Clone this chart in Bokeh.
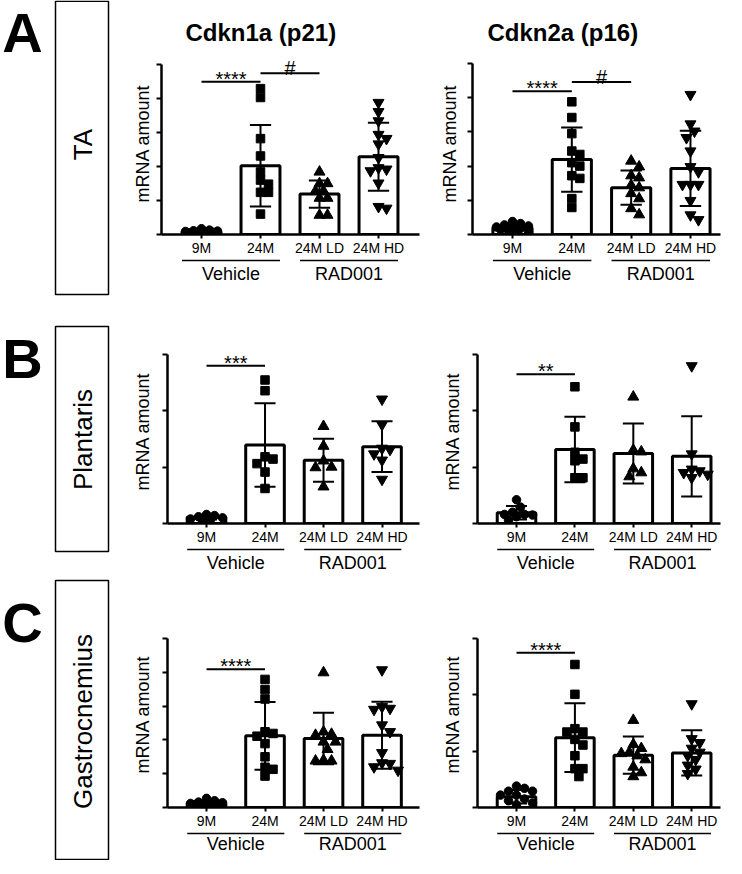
import math
from bokeh.plotting import figure
from bokeh.layouts import row, column
from bokeh.models import Range1d, FixedTicker
from bokeh.core.properties import value
from bokeh.embed import file_html
from bokeh.resources import INLINE

FONT = "Liberation Sans"

categories = ["9M", "24M", "24M LD", "24M HD"]
groups = ["Vehicle", "RAD001"]
group_members = [[0, 1], [2, 3]]
markers = ["circle", "square", "triangle", "inverted_triangle"]
marker_sizes = [8.5, 8.5, 11, 11]
genes = ["Cdkn1a (p21)", "Cdkn2a (p16)"]
muscles = ["TA", "Plantaris", "Gastrocnemius"]
letters = ["A", "B", "C"]

# ---- TA / Cdkn1a ----
ta_p21_mean = [0.08, 2.02, 1.19, 2.29]
ta_p21_sd = [0.04, 1.20, 0.40, 1.00]
ta_p21_9m = [0.17, 0.13, 0.11, 0.10, 0.09, 0.08, 0.07, 0.06, 0.05, 0.04]
ta_p21_24m = [4.29, 4.03, 2.82, 2.31, 1.84, 1.60, 1.48, 1.24, 1.24, 0.60]
ta_p21_ld = [1.84, 1.50, 1.50, 1.28, 1.28, 1.07, 1.07, 0.57, 0.57]
ta_p21_hd = [3.88, 3.61, 3.34, 2.94, 2.82, 2.66, 2.26, 1.96, 1.92, 1.87, 1.51, 0.82, 0.77]
ta_p21_ticks = [0, 1, 2, 3, 4, 5]
ta_p21_sig = [(0, 1, 4.49, "****"), (1, 2, 4.74, "#")]

# ---- TA / Cdkn2a ----
ta_p16_mean = [0.20, 2.19, 1.37, 1.93]
ta_p16_sd = [0.08, 0.94, 0.50, 1.10]
ta_p16_9m = [0.38, 0.32, 0.28, 0.25, 0.22, 0.20, 0.18, 0.15, 0.12, 0.08, 0.05]
ta_p16_24m = [3.88, 3.42, 2.95, 2.44, 2.34, 2.10, 2.00, 1.72, 1.64, 1.05, 0.79]
ta_p16_ld = [2.15, 1.98, 1.72, 1.66, 1.44, 1.37, 1.20, 1.05, 0.76, 0.58]
ta_p16_hd = [4.09, 3.23, 3.02, 2.83, 2.44, 1.98, 1.83, 1.46, 1.46, 1.46, 0.99, 0.57, 0.43]
ta_p16_ticks = [0, 1, 2, 3, 4, 5]
ta_p16_sig = [(0, 1, 4.19, "****"), (1, 2, 4.46, "#")]

# ---- Plantaris / Cdkn1a ----
pl_p21_mean = [0.11, 1.39, 1.12, 1.36]
pl_p21_sd = [0.04, 0.74, 0.38, 0.45]
pl_p21_9m = [0.16, 0.14, 0.12, 0.10, 0.08, 0.07, 0.05]
pl_p21_24m = [2.54, 2.35, 1.18, 1.14, 1.06, 0.91, 0.62]
pl_p21_ld = [1.72, 1.37, 1.11, 1.00, 0.99, 0.65]
pl_p21_hd = [2.20, 1.75, 1.33, 1.31, 1.23, 1.12, 0.78]
pl_p21_ticks = [0, 1, 2, 3]
pl_p21_sig = [(0, 1, 2.79, "***")]

# ---- Plantaris / Cdkn2a ----
pl_p16_mean = [0.19, 1.31, 1.24, 1.19]
pl_p16_sd = [0.12, 0.58, 0.53, 0.71]
pl_p16_9m = [0.42, 0.29, 0.20, 0.16, 0.16, 0.15, 0.12, 0.06]
pl_p16_24m = [2.42, 1.71, 1.26, 1.14, 1.11, 0.81, 0.81]
pl_p16_ld = [2.24, 1.30, 1.27, 0.97, 0.90, 0.83]
pl_p16_hd = [2.79, 1.23, 0.96, 0.93, 0.90, 0.87, 0.81]
pl_p16_ticks = [0, 1, 2, 3]
pl_p16_sig = [(0, 1, 2.64, "**")]

# ---- Gastrocnemius / Cdkn1a ----
ga_p21_mean = [0.12, 2.12, 2.04, 2.14]
ga_p21_sd = [0.05, 1.00, 0.76, 0.99]
ga_p21_9m = [0.27, 0.20, 0.16, 0.14, 0.12, 0.10, 0.10, 0.08, 0.06]
ga_p21_24m = [3.79, 3.49, 3.21, 2.24, 2.19, 2.11, 1.89, 1.50, 1.19, 1.13, 0.93]
ga_p21_ld = [3.99, 2.24, 2.17, 2.14, 1.94, 1.94, 1.72, 1.40, 1.38, 1.38]
ga_p21_hd = [4.07, 2.98, 2.93, 2.90, 2.44, 2.24, 1.62, 1.32, 1.30, 1.20, 1.10]
ga_p21_ticks = [0, 1, 2, 3, 4, 5]
ga_p21_sig = [(0, 1, 4.09, "****")]

# ---- Gastrocnemius / Cdkn2a ----
ga_p16_mean = [0.19, 1.24, 0.93, 0.97]
ga_p16_sd = [0.12, 0.61, 0.33, 0.40]
ga_p16_9m = [0.38, 0.34, 0.29, 0.29, 0.22, 0.22, 0.15, 0.12, 0.08, 0.05]
ga_p16_24m = [2.54, 2.01, 1.40, 1.34, 1.34, 1.21, 1.11, 0.92, 0.69, 0.69, 0.55]
ga_p16_ld = [1.55, 1.12, 1.05, 0.98, 0.96, 0.92, 0.85, 0.72, 0.62, 0.55]
ga_p16_hd = [1.84, 1.22, 1.15, 1.05, 0.98, 0.92, 0.85, 0.75, 0.68, 0.60]
ga_p16_ticks = [0, 1, 2, 3]
ga_p16_sig = [(0, 1, 2.75, "****")]

# ---------------- layout / style parameters ----------------
SPECS = [
    [dict(xs=-0.678, pxc=59.0, pxu=34.0, fw=258, fh=182, bl=41, br=6, bt=52, ls=4, toff=24),
     dict(xs=-0.674, pxc=59.33, pxu=34.2, fw=248, fh=182, bl=47, br=4, bt=52, ls=8, toff=15)],
    [dict(xs=-0.667, pxc=58.5, pxu=56.5, fw=252, fh=184, bl=47, br=6, bt=23, ls=10, toff=0),
     dict(xs=-0.668, pxc=58.4, pxu=56.5, fw=243, fh=184, bl=52, br=4, bt=23, ls=10, toff=0)],
    [dict(xs=-0.667, pxc=58.5, pxu=33.8, fw=252, fh=186, bl=47, br=6, bt=47, ls=10, toff=0),
     dict(xs=-0.668, pxc=58.4, pxu=56.3, fw=243, fh=186, bl=52, br=4, bt=47, ls=10, toff=0)],
]
STRIP_H = [58, 27, 31]
STRIP_TEXT_Y = [15.5, 15, 12]
LABEL_W = 120
ROW_H = [314, 256, 286]
BOXES = [(0.75, 294), (10, 235), (6, 285)]
LETTER_Y = [0, 10, 16]
LABEL_Y = [144, 123, 147]
BOTTOM_BORDER = 22


def swarm(vals, pxu, pxc, d=8.0, limit=0.30):
    placed = []
    out = [0.0] * len(vals)
    order = sorted(range(len(vals)), key=lambda i: -vals[i])
    step = d / 2.0
    n = int((limit * pxc) // step)
    cands = [0.0]
    for j in range(1, n + 1):
        cands += [j * step, -j * step]
    for i in order:
        y = vals[i] * pxu
        best, bestd = 0.0, -1.0
        for c in cands:
            md = min([math.hypot(c - px, y - py) for px, py in placed] or [1e9])
            if md >= d:
                best = c
                break
            if md > bestd:
                bestd, best = md, c
        placed.append((best, y))
        out[i] = best / pxc
    return out


def build_panel(means, sds, pts, sig, ticks, spec, title=None):
    xs, pxc, pxu = spec["xs"], spec["pxc"], spec["pxu"]
    fw, fh = spec["fw"], spec["fh"]
    p = figure(x_range=Range1d(xs, xs + fw / pxc), y_range=Range1d(0, fh / pxu),
               frame_width=fw, frame_height=fh,
               min_border_left=spec["bl"], min_border_right=spec["br"],
               min_border_top=spec["bt"], min_border_bottom=BOTTOM_BORDER,
               toolbar_location=None, output_backend="svg", title=title)
    p.outline_line_color = None
    p.grid.visible = False
    p.background_fill_color = "white"
    p.border_fill_color = "white"
    if title:
        p.title.text_font = FONT
        p.title.text_font_size = "24px"
        p.title.text_font_style = "bold"
        p.title.text_color = "black"
        p.title.align = "left"
        p.title.offset = spec["toff"]
        p.title.standoff = 13

    xa = p.xaxis[0]
    xa.ticker = FixedTicker(ticks=list(range(len(categories))))
    xa.major_label_overrides = {i: c for i, c in enumerate(categories)}
    xa.major_label_text_font = FONT
    xa.major_label_text_font_size = "14px"
    xa.major_label_text_color = "black"
    xa.major_label_standoff = 1
    xa.major_tick_in = 0
    xa.major_tick_out = 4
    xa.minor_tick_line_color = None
    xa.axis_line_width = 2.5
    xa.major_tick_line_width = 2

    ya = p.yaxis[0]
    ya.ticker = FixedTicker(ticks=ticks)
    ya.bounds = (ticks[0], ticks[-1])
    ya.major_label_overrides = {t: "" for t in ticks}
    ya.major_label_standoff = 0
    ya.major_tick_in = 0
    ya.major_tick_out = 5
    ya.minor_tick_line_color = None
    ya.axis_line_width = 2.5
    ya.major_tick_line_width = 2
    ya.axis_label = "mRNA amount"
    ya.axis_label_text_font = FONT
    ya.axis_label_text_font_size = "18px"
    ya.axis_label_text_font_style = "normal"
    ya.axis_label_text_color = "black"
    ya.axis_label_standoff = spec["ls"]

    idx = list(range(len(categories)))
    p.vbar(x=idx, top=means, width=0.66, bottom=0, fill_color="white",
           line_color="black", line_width=3)

    for k, vals in enumerate(pts):
        offs = swarm(vals, pxu, pxc)
        p.scatter(x=[k + o for o in offs], y=vals, marker=markers[k],
                  size=marker_sizes[k], fill_color="black", line_color="black")

    lo = [m - s for m, s in zip(means, sds)]
    hi = [m + s for m, s in zip(means, sds)]
    p.segment(x0=idx, x1=idx, y0=lo, y1=hi, line_color="black", line_width=2)
    cap = 0.18
    p.segment(x0=[i - cap for i in idx], x1=[i + cap for i in idx], y0=hi, y1=hi,
              line_color="black", line_width=2)
    p.segment(x0=[i - cap for i in idx], x1=[i + cap for i in idx], y0=lo, y1=lo,
              line_color="black", line_width=2)

    for a, b, h, t in sig:
        p.segment(x0=[a], x1=[b], y0=[h], y1=[h], line_color="black", line_width=2)
        star = t.startswith("*")
        p.text(x=[(a + b) / 2.0], y=[h], text=[t], text_align="center",
               text_baseline="alphabetic", y_offset=-3 if star else -5,
               text_font=value(FONT), text_font_size="20px",
               text_color="black")
    return p


def build_strip(p, spec, h, ty):
    s = figure(x_range=p.x_range, y_range=Range1d(h, 0),
               frame_width=spec["fw"], frame_height=h,
               min_border_left=spec["bl"], min_border_right=spec["br"],
               min_border_top=0, min_border_bottom=0,
               x_axis_location=None, y_axis_location=None,
               toolbar_location=None, output_backend="svg")
    s.outline_line_color = None
    s.grid.visible = False
    x0 = [min(m) - 0.33 for m in group_members]
    x1 = [max(m) + 0.33 for m in group_members]
    xc = [sum(m) / len(m) for m in group_members]
    s.segment(x0=x0, x1=x1, y0=[2] * len(groups), y1=[2] * len(groups),
              line_color="black", line_width=1.6)
    s.text(x=xc, y=[ty] * len(groups), text=groups, text_align="center",
           text_baseline="middle", text_font=value(FONT), text_font_size="18px",
           text_color="black")
    return s


def build_label(r):
    h = ROW_H[r]
    f = figure(x_range=Range1d(0, LABEL_W), y_range=Range1d(h, 0),
               frame_width=LABEL_W, frame_height=h, min_border=0,
               x_axis_location=None, y_axis_location=None,
               toolbar_location=None, output_backend="svg")
    f.outline_line_color = None
    f.grid.visible = False
    top, bot = BOXES[r]
    f.quad(left=[55], right=[108], top=[top], bottom=[bot], fill_color=None,
           line_color="black", line_width=1.5)
    f.text(x=[22], y=[LETTER_Y[r]], text=[letters[r]], text_align="center",
           text_baseline="top", text_font=value(FONT), text_font_size="56px",
           text_font_style="bold", text_color="black")
    f.text(x=[82], y=[LABEL_Y[r]], text=[muscles[r]], angle=math.pi / 2,
           text_align="center", text_baseline="middle", text_font=value(FONT),
           text_font_size="26px", text_color="black")
    return f


panel_data = [
    [(ta_p21_mean, ta_p21_sd, [ta_p21_9m, ta_p21_24m, ta_p21_ld, ta_p21_hd], ta_p21_sig, ta_p21_ticks),
     (ta_p16_mean, ta_p16_sd, [ta_p16_9m, ta_p16_24m, ta_p16_ld, ta_p16_hd], ta_p16_sig, ta_p16_ticks)],
    [(pl_p21_mean, pl_p21_sd, [pl_p21_9m, pl_p21_24m, pl_p21_ld, pl_p21_hd], pl_p21_sig, pl_p21_ticks),
     (pl_p16_mean, pl_p16_sd, [pl_p16_9m, pl_p16_24m, pl_p16_ld, pl_p16_hd], pl_p16_sig, pl_p16_ticks)],
    [(ga_p21_mean, ga_p21_sd, [ga_p21_9m, ga_p21_24m, ga_p21_ld, ga_p21_hd], ga_p21_sig, ga_p21_ticks),
     (ga_p16_mean, ga_p16_sd, [ga_p16_9m, ga_p16_24m, ga_p16_ld, ga_p16_hd], ga_p16_sig, ga_p16_ticks)],
]

rows = []
for r in range(3):
    items = [build_label(r)]
    for c in range(2):
        means, sds, pts, sig, ticks = panel_data[r][c]
        spec = SPECS[r][c]
        title = genes[c] if r == 0 else None
        p = build_panel(means, sds, pts, sig, ticks, spec, title)
        s = build_strip(p, spec, STRIP_H[r], STRIP_TEXT_Y[r])
        items.append(column(p, s, spacing=0))
    rows.append(row(*items, spacing=0))

layout = column(*rows, spacing=0)

with open("out.html", "w") as fh:
    fh.write(file_html(layout, INLINE))
